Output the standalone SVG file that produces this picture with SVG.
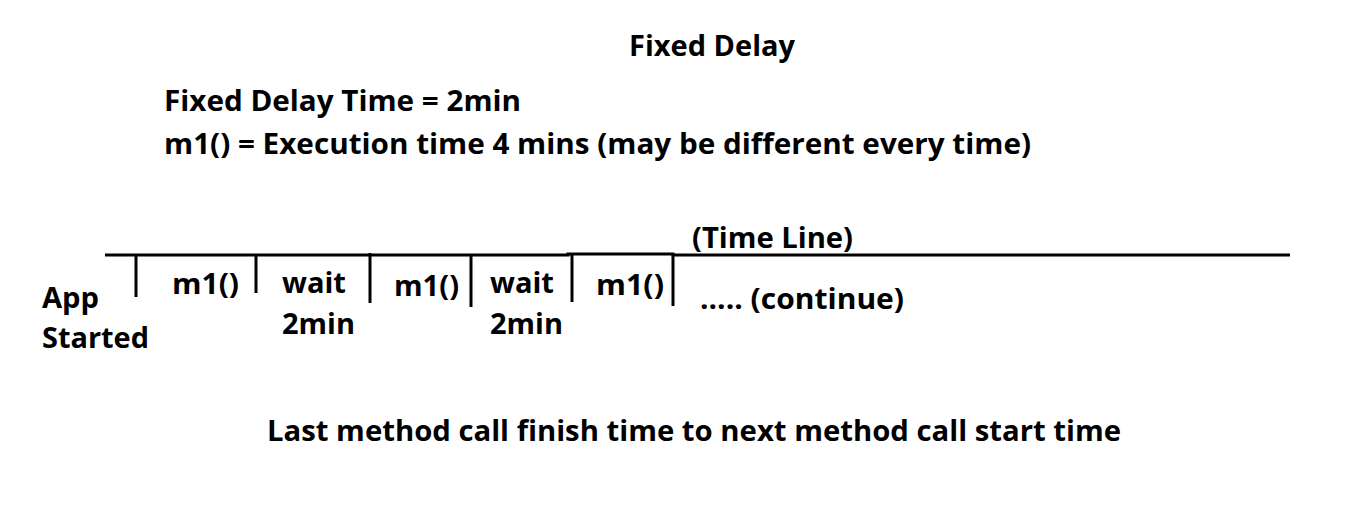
<svg xmlns="http://www.w3.org/2000/svg" width="1366" height="523" viewBox="0 0 1366 523">
<style>
text{font-family:"Open Sans","Noto Sans","Liberation Sans",sans-serif;font-weight:700;font-size:28px;fill:#000}
.ln{stroke:#000;stroke-width:3;fill:none;stroke-linecap:butt}
</style>
<rect width="1366" height="523" fill="#fff"/>
<g id="header">
<text x="629" y="56" textLength="166" lengthAdjust="spacingAndGlyphs">Fixed Delay</text>
<text x="164" y="111" textLength="357" lengthAdjust="spacingAndGlyphs">Fixed Delay Time = 2min</text>
<text x="164" y="154" textLength="867" lengthAdjust="spacingAndGlyphs">m1() = Execution time 4 mins (may be different every time)</text>
</g>
<g id="connectors">
<polyline class="ln" points="105,255 568,255 568,254 673,254 673,255 1290,255"/>
<line class="ln" x1="136" y1="256" x2="136" y2="297"/>
<line class="ln" x1="256" y1="256" x2="256" y2="293"/>
<line class="ln" x1="370" y1="253" x2="370" y2="303"/>
<line class="ln" x1="471" y1="255" x2="471" y2="307"/>
<line class="ln" x1="572" y1="254" x2="572" y2="302"/>
<line class="ln" x1="673" y1="254" x2="673" y2="306"/>
</g>
<g id="timeline-label">
<text x="692" y="248" textLength="161" lengthAdjust="spacingAndGlyphs">(Time Line)</text>
</g>
<g id="app-started">
<text x="42" y="308" textLength="57" lengthAdjust="spacingAndGlyphs">App</text>
<text x="42" y="348" textLength="107" lengthAdjust="spacingAndGlyphs">Started</text>
</g>
<g id="m1-1"><text x="172" y="294" textLength="67" lengthAdjust="spacingAndGlyphs">m1()</text></g>
<g id="wait-1">
<text x="282" y="293" textLength="64" lengthAdjust="spacingAndGlyphs">wait</text>
<text x="282" y="334" textLength="73" lengthAdjust="spacingAndGlyphs">2min</text>
</g>
<g id="m1-2"><text x="394" y="296" textLength="65" lengthAdjust="spacingAndGlyphs">m1()</text></g>
<g id="wait-2">
<text x="490" y="293" textLength="64" lengthAdjust="spacingAndGlyphs">wait</text>
<text x="490" y="334" textLength="73" lengthAdjust="spacingAndGlyphs">2min</text>
</g>
<g id="m1-3"><text x="596" y="295" textLength="68" lengthAdjust="spacingAndGlyphs">m1()</text></g>
<g id="continue"><text x="700" y="309" textLength="204" lengthAdjust="spacingAndGlyphs">..... (continue)</text></g>
<g id="footer">
<text x="267" y="441" textLength="854" lengthAdjust="spacingAndGlyphs">Last method call finish time to next method call start time</text>
</g>
</svg>
